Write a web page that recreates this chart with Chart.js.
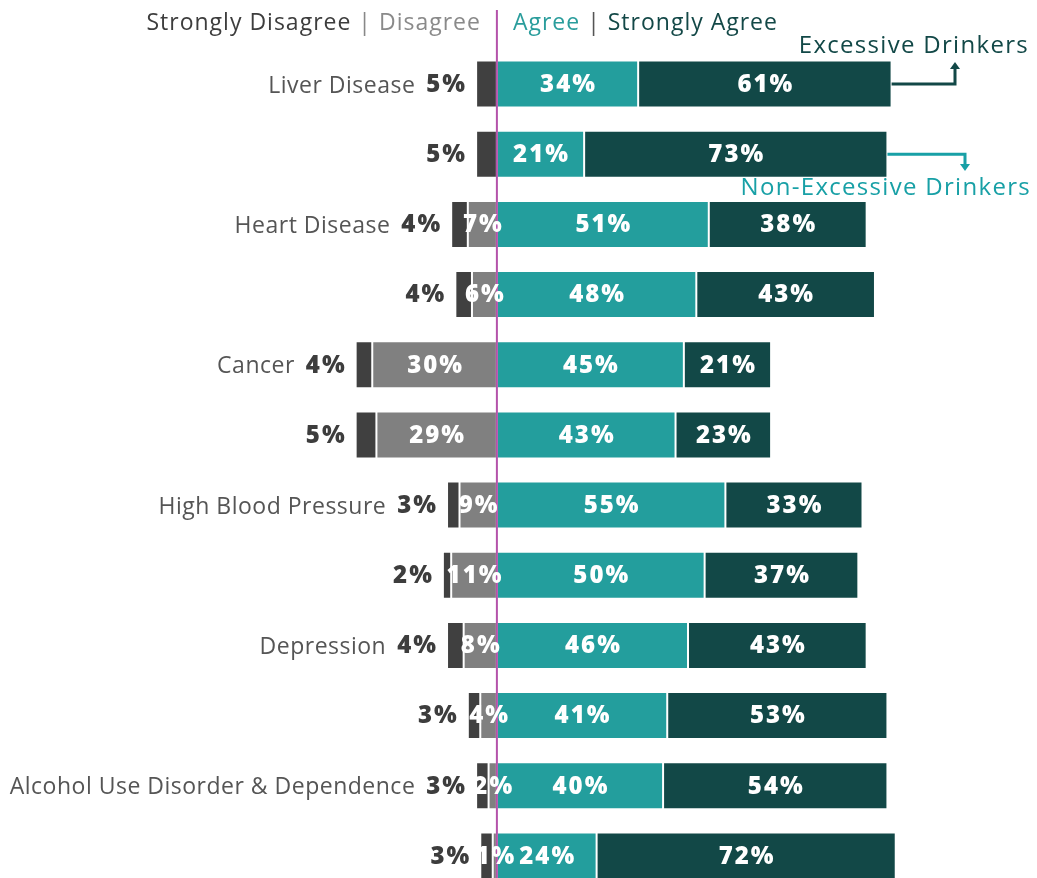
<!DOCTYPE html>
<html>
<head>
<meta charset="utf-8">
<script src="https://cdn.jsdelivr.net/npm/chart.js@4"></script>
<style>
  html, body { margin: 0; padding: 0; overflow: hidden; background: #fff; }
  #wrap { position: absolute; left: 0; top: 0; width: 1037px; height: 891px; }
</style>
</head>
<body>
<div id="wrap"><canvas id="riskChart"></canvas></div>
<script>
// each topic gets two rows: excessive drinkers, then non-excessive drinkers
var topics = ["Liver Disease", "Heart Disease", "Cancer", "High Blood Pressure", "Depression", "Alcohol Use Disorder & Dependence"];
var stronglyDisagree = [5, 5, 4, 4, 4, 5, 3, 2, 4, 3, 3, 3];
var disagree         = [0, 0, 7, 6, 30, 29, 9, 11, 8, 4, 2, 1];
var agree            = [34, 21, 51, 48, 45, 43, 55, 50, 46, 41, 40, 24];
var stronglyAgree    = [61, 73, 38, 43, 21, 23, 33, 37, 43, 53, 54, 72];

var C_SD = '#404040', C_D = '#808080', C_A = '#239e9d', C_SA = '#124847';
var C_LINE = '#b452aa';

var rowLabels = [];
topics.forEach(function (t) { rowLabels.push(t); rowLabels.push(''); });

var pctFont = '800 24px "Open Sans"';
var txtFont = '23px "Open Sans"';

function setText(ctx, font, spacing) {
  ctx.font = font;
  if ('letterSpacing' in ctx) ctx.letterSpacing = spacing;
}

var labelPlugin = {
  id: 'likertLabels',
  afterDatasetsDraw: function (chart) {
    var ctx = chart.ctx, xs = chart.scales.x;
    var x0 = xs.getPixelForValue(0);
    ctx.save();

    // zero line
    ctx.strokeStyle = C_LINE;
    ctx.lineWidth = 2;
    ctx.beginPath();
    ctx.moveTo(x0, 10);
    ctx.lineTo(x0, chart.height);
    ctx.stroke();

    ctx.textBaseline = 'middle';
    var sources = [disagree, stronglyDisagree, agree, stronglyAgree];

    // values inside the segments
    [0, 2, 3].forEach(function (di) {
      var meta = chart.getDatasetMeta(di);
      meta.data.forEach(function (el, i) {
        var v = sources[di][i];
        if (!v) return;
        setText(ctx, pctFont, '2px');
        ctx.fillStyle = '#fff';
        ctx.textAlign = 'center';
        ctx.fillText(v + '%', (el.x + el.base) / 2 + 1, el.y + 1);
      });
    });

    // strongly disagree values sit left of the bar, topic names left of those
    var sdMeta = chart.getDatasetMeta(1);
    sdMeta.data.forEach(function (el, i) {
      var left = Math.min(el.x, el.base);
      var txt = stronglyDisagree[i] + '%';
      setText(ctx, pctFont, '2px');
      ctx.fillStyle = '#3d3d3d';
      ctx.textAlign = 'right';
      ctx.fillText(txt, left - 9, el.y + 1);
      var w = ctx.measureText(txt).width;
      if (rowLabels[i]) {
        setText(ctx, txtFont, '0.5px');
        ctx.fillStyle = '#555';
        ctx.fillText(rowLabels[i], left - 9 - w - 11, el.y + 2);
      }
    });

    // header key
    setText(ctx, txtFont, '1px');
    var hy = 23;
    var parts = [['Strongly Disagree', '#3d3d3d'], [' | ', '#888'], ['Disagree', '#8a8a8a']];
    var total = 0;
    parts.forEach(function (p) { total += ctx.measureText(p[0]).width; });
    var cx = x0 - 16 - total;
    ctx.textAlign = 'left';
    parts.forEach(function (p) { ctx.fillStyle = p[1]; ctx.fillText(p[0], cx, hy); cx += ctx.measureText(p[0]).width; });
    parts = [['Agree', '#2a9d9c'], [' | ', '#555'], ['Strongly Agree', '#134847']];
    cx = x0 + 16;
    parts.forEach(function (p) { ctx.fillStyle = p[1]; ctx.fillText(p[0], cx, hy); cx += ctx.measureText(p[0]).width; });

    // group callouts
    var saMeta = chart.getDatasetMeta(3);
    var e1 = saMeta.data[0], e2 = saMeta.data[1];
    ctx.lineWidth = 3;
    ctx.strokeStyle = C_SA; ctx.fillStyle = C_SA;
    ctx.beginPath();
    ctx.moveTo(e1.x, e1.y); ctx.lineTo(955, e1.y); ctx.lineTo(955, 68);
    ctx.stroke();
    ctx.beginPath();
    ctx.moveTo(950, 69); ctx.lineTo(960, 69); ctx.lineTo(955, 62); ctx.closePath(); ctx.fill();
    setText(ctx, '24px "Open Sans"', '1.3px');
    ctx.textAlign = 'right';
    ctx.fillText('Excessive Drinkers', 1029, 46);

    ctx.strokeStyle = '#18a0a6'; ctx.fillStyle = '#18a0a6';
    ctx.beginPath();
    ctx.moveTo(e2.x, e2.y); ctx.lineTo(965, e2.y); ctx.lineTo(965, 165);
    ctx.stroke();
    ctx.beginPath();
    ctx.moveTo(960, 164); ctx.lineTo(970, 164); ctx.lineTo(965, 171); ctx.closePath(); ctx.fill();
    ctx.fillText('Non-Excessive Drinkers', 1031, 188);

    ctx.restore();
  }
};

var barOpts = { barPercentage: 0.67, categoryPercentage: 1, borderWidth: 1, borderColor: 'rgba(255,255,255,0.35)', borderSkipped: false };

new Chart(document.getElementById('riskChart'), {
  type: 'bar',
  data: {
    labels: rowLabels,
    datasets: [
      Object.assign({ label: 'Disagree', data: disagree.map(function (v) { return -v; }), backgroundColor: C_D }, barOpts),
      Object.assign({ label: 'Strongly Disagree', data: stronglyDisagree.map(function (v) { return -v; }), backgroundColor: C_SD }, barOpts),
      Object.assign({ label: 'Agree', data: agree, backgroundColor: C_A }, barOpts),
      Object.assign({ label: 'Strongly Agree', data: stronglyAgree, backgroundColor: C_SA }, barOpts)
    ]
  },
  options: {
    indexAxis: 'y',
    responsive: true,
    maintainAspectRatio: false,
    animation: false,
    layout: { padding: { top: 49, bottom: 0, left: 0, right: 0 } },
    plugins: { legend: { display: false }, tooltip: { enabled: false } },
    scales: {
      x: { display: false, stacked: true, min: -119.6, max: 130 },
      y: { display: false, stacked: true }
    }
  },
  plugins: [labelPlugin]
});
</script>
</body>
</html>
